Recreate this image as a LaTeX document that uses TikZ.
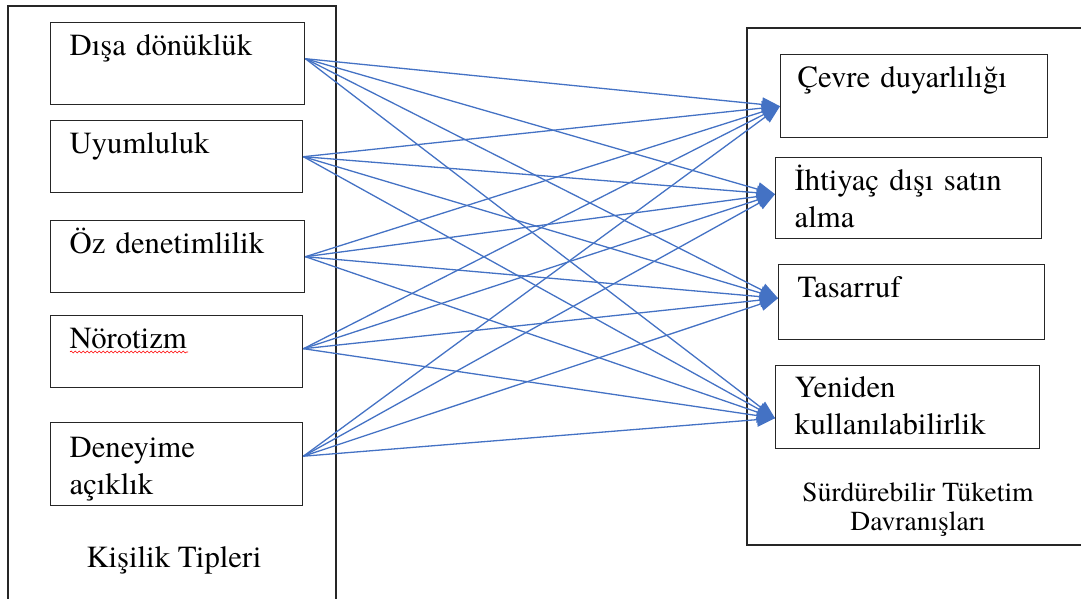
\documentclass[tikz,border=0pt]{standalone}
\usepackage{fontspec}
\setmainfont{texgyretermes-regular.otf}
\usetikzlibrary{arrows.meta,decorations.pathmorphing}
\definecolor{linkblue}{HTML}{4472C4}

\tikzset{
	kbox/.style={draw=black!85, line width=1.4pt, anchor=north west, inner xsep=19pt, inner ysep=0pt,
		align=left, text height=33pt, font=\fontsize{30.7}{36.5}\selectfont},
	groupbox/.style={draw=black!85, line width=1.4pt},
	link/.style={draw=linkblue, line width=1.3pt, -{Triangle[length=18pt,width=14pt]}},
}

\begin{document}
\begin{tikzpicture}[x=1pt,y=-1pt]
				\useasboundingbox (0,0) rectangle (1081,598);
				\clip (0,0) rectangle (1081,598);

				\draw[groupbox] (8,6) rectangle (336,640);
				\draw[groupbox] (747,28) rectangle (1120,545);

				\draw (50,22) node[kbox, text width=216pt, text depth=49pt] (disa) {Dışa dönüklük};
				\draw (50,120) node[kbox, text width=214pt, text depth=39pt] (uyum) {Uyumluluk};
				\draw (50,220) node[kbox, text width=216pt, text depth=39pt] (oz) {Öz denetimlilik};
				\draw (50,315) node[kbox, text width=214pt, text depth=39pt] (noro) {Nörotizm};
				\draw (50,422) node[kbox, text width=214pt, text depth=48pt, text height=35pt] (deney) {Deneyime\\açıklık};
				\draw (83,567) node[anchor=base west, font=\fontsize{30.7}{36.5}\selectfont] (kisilik) {Kişilik Tipleri};

				\draw (780,54) node[kbox, inner xsep=17pt, text width=233pt, text depth=50pt] (cevre) {Çevre duyarlılığı};
				\draw (775,157) node[kbox, text width=228pt, text depth=48pt] (ihtiyac) {İhtiyaç dışı satın\\alma};
				\draw (778,264) node[kbox, text width=228pt, text depth=42pt] (tasarruf) {Tasarruf};
				\draw (775,365) node[kbox, text width=226pt, text depth=51pt, text height=32pt] (yeniden) {Yeniden\\kullanılabilirlik};
				\draw (918,530) node[anchor=base, align=center, font=\fontsize{27.5}{28.5}\selectfont] (surdur) {Sürdürebilir Tüketim\\Davranışları};

				% spell-check line under Nörotizm
				\draw[red, line width=0.6pt, decorate, decoration={snake, amplitude=1pt, segment length=4pt}]
				(70,352) -- (188,352);

				\coordinate (disa-out) at ([yshift=5pt]disa.east);
				\coordinate (uyum-out) at (uyum.east);
				\coordinate (oz-out) at (oz.east);
				\coordinate (noro-out) at ([yshift=3pt]noro.east);
				\coordinate (deney-out) at ([yshift=8pt]deney.east);
				\coordinate (cevre-in) at ([yshift=-10pt]cevre.west);
				\coordinate (ihtiyac-in) at ([yshift=4pt]ihtiyac.west);
				\coordinate (tasarruf-in) at ([yshift=4pt]tasarruf.west);
				\coordinate (yeniden-in) at ([yshift=-11pt]yeniden.west);

				\path[every edge/.style={link}]
				(disa-out) edge (cevre-in)
				(disa-out) edge (ihtiyac-in)
				(disa-out) edge (tasarruf-in)
				(disa-out) edge (yeniden-in)
				(uyum-out) edge (cevre-in)
				(uyum-out) edge (ihtiyac-in)
				(uyum-out) edge (tasarruf-in)
				(uyum-out) edge (yeniden-in)
				(oz-out) edge (cevre-in)
				(oz-out) edge (ihtiyac-in)
				(oz-out) edge (tasarruf-in)
				(oz-out) edge (yeniden-in)
				(noro-out) edge (cevre-in)
				(noro-out) edge (ihtiyac-in)
				(noro-out) edge (tasarruf-in)
				(noro-out) edge (yeniden-in)
				(deney-out) edge (cevre-in)
				(deney-out) edge (ihtiyac-in)
				(deney-out) edge (tasarruf-in)
				(deney-out) edge (yeniden-in)
				;
			\end{tikzpicture}
\end{document}
